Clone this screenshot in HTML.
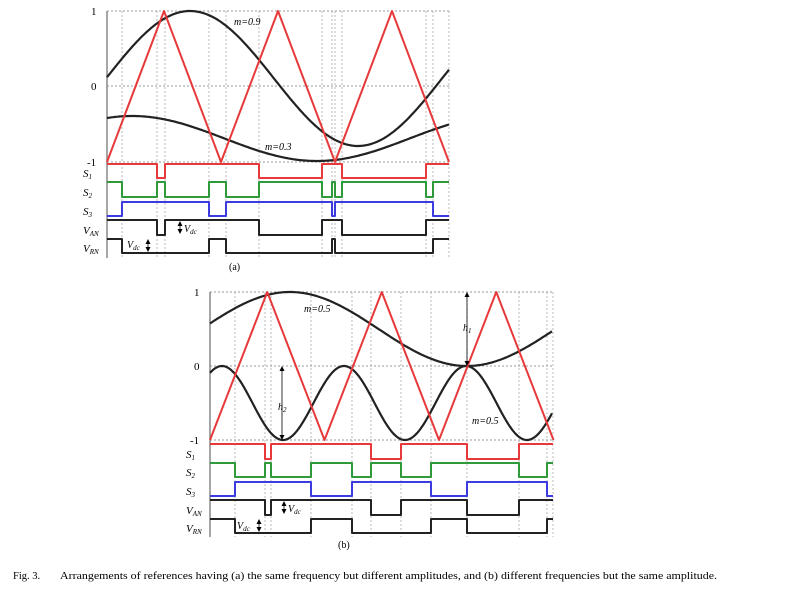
<!DOCTYPE html>
<html><head><meta charset="utf-8"><style>
html,body{margin:0;padding:0;background:#fff;}
svg{display:block;font-family:"Liberation Serif",serif;}
</style></head><body>
<svg id="s" width="794" height="606" viewBox="0 0 794 606" xmlns="http://www.w3.org/2000/svg">
<text x="13" y="579" font-size="10.5">Fig. 3.</text>
<text x="60" y="579" font-size="10.5" textLength="657" lengthAdjust="spacingAndGlyphs">Arrangements of references having (a) the same frequency but different amplitudes, and (b) different frequencies but the same amplitude.</text>
</svg>
<script>
const s=document.getElementById('s');
const NS='http://www.w3.org/2000/svg';
function el(t,a,txt){const e=document.createElementNS(NS,t);for(const k in a)e.setAttribute(k,a[k]);if(txt!==undefined)e.textContent=txt;s.appendChild(e);return e;}
function line(x1,y1,x2,y2,st,w,d){el('line',{x1,y1,x2,y2,stroke:st,'stroke-width':w,'stroke-dasharray':d||''});}
function poly(pts,st,w){el('polyline',{points:pts.map(p=>p.join(',')).join(' '),fill:'none',stroke:st,'stroke-width':w,'stroke-linejoin':'round'});}
function wave(x0,x1,hi,lo,segs,col){
  let pts=[],x=x0,prev=null;
  for(const [xe,v] of segs){const y=v?hi:lo; if(prev!==null&&prev!==y)pts.push([x,prev]); pts.push([x,y]); pts.push([xe,y]); prev=y; x=xe;}
  poly(pts,col,2);
}
function lab(x,y,main,sub){const t=el('text',{x,y,'font-size':11,'font-style':'italic'});t.textContent='';
  const a=document.createElementNS(NS,'tspan');a.textContent=main;t.appendChild(a);
  const b=document.createElementNS(NS,'tspan');b.setAttribute('font-size','7');b.setAttribute('dy','2');b.textContent=sub;t.appendChild(b);}
function arrow(x,y1,y2){line(x,y1+3,x,y2-3,'#000',0.8);
  el('polygon',{points:`${x-2.5},${y1+5} ${x+2.5},${y1+5} ${x},${y1}`,fill:'#000'});
  el('polygon',{points:`${x-2.5},${y2-5} ${x+2.5},${y2-5} ${x},${y2}`,fill:'#000'});}

function plot(P){
  const {X0,X1,Y1,Y0,Ym,rows,axisB,vx,per,curves,sig}=P;
  const G='#999';
  [Y1,Y0,Ym].forEach(y=>line(X0,y,X1,y,G,1,'2,2'));
  vx.forEach(x=>line(x,Y1,x,axisB,'#aaa',0.8,'2,2'));
  line(X1,Y1,X1,axisB,'#aaa',0.8,'2,2');
  line(X0,Y1,X0,axisB,'#888',1.5);
  el('text',{x:X0-16,y:Y1+4,'font-size':11},'1');
  el('text',{x:X0-16,y:Y0+4,'font-size':11},'0');
  el('text',{x:X0-20,y:Ym+4,'font-size':11},'-1');
  const vy=v=>Y0-(Y0-Y1)*v;
  curves.forEach(f=>{let pts=[];for(let x=X0;x<=X1;x+=1.5)pts.push([x,vy(f(x)).toFixed(1)]);poly(pts,'#222',2.2);});
  let pts=[];for(let k=0;;k++){const x=X0+k*per/2;if(x>X1+1)break;pts.push([x,k%2?Y1:Ym]);}
  poly(pts,'#e8393a',2);
  const cols=['#e8393a','#2e9a3a','#3b3be0','#222','#222'];
  const names=[['S','1'],['S','2'],['S','3'],['V','AN'],['V','RN']];
  sig.forEach((sg,i)=>{const [hi,lo]=rows[i];wave(X0,X1,hi,lo,sg,cols[i]);lab(X0-24,lo-1,names[i][0],names[i][1]);});
}
plot({X0:107,X1:449,Y1:11,Y0:86,Ym:162,axisB:258,per:114,
 vx:[122,157,165,209,226,259,322,332,335,342,426,433],
 curves:[x=>0.1+0.9*Math.cos(2*Math.PI*(x-190)/336),x=>-0.7+0.3*Math.cos(2*Math.PI*(x-132)/370)],
 rows:[[164,178],[182,197],[202,216],[220,235],[239,253]],
 sig:[
 [[157,1],[165,0],[259,1],[322,0],[342,1],[426,0],[449,1]],
 [[122,1],[157,0],[165,1],[209,0],[226,1],[259,0],[322,1],[332,0],[335,1],[342,0],[426,1],[433,0],[449,1]],
 [[122,0],[209,1],[226,0],[332,1],[335,0],[433,1],[449,0]],
 [[157,1],[165,0],[259,1],[322,0],[342,1],[426,0],[449,1]],
 [[122,1],[209,0],[226,1],[332,0],[335,1],[433,0],[449,1]]]});
plot({X0:210,X1:553,Y1:292,Y0:366,Ym:440,axisB:537,per:114.5,
 vx:[235,265,271,311,352,371,401,431,467,519,547],
 curves:[x=>0.5+0.5*Math.cos(2*Math.PI*(x-290)/354),x=>-0.5+0.5*Math.cos(2*Math.PI*(x-222)/122)],
 rows:[[444,459],[463,477],[482,496],[500,515],[519,533]],
 sig:[
 [[265,1],[271,0],[371,1],[401,0],[467,1],[519,0],[553,1]],
 [[235,1],[265,0],[271,1],[311,0],[352,1],[371,0],[401,1],[431,0],[519,1],[547,0],[553,1]],
 [[235,0],[311,1],[352,0],[431,1],[467,0],[547,1],[553,0]],
 [[265,1],[271,0],[371,1],[401,0],[467,1],[519,0],[553,1]],
 [[235,1],[311,0],[352,1],[431,0],[467,1],[547,0],[553,1]]]});
function itx(x,y,t,sub,fs){const e=el('text',{x,y,'font-size':fs||10,'font-style':'italic'});const a=document.createElementNS(NS,'tspan');a.textContent=t;e.appendChild(a);if(sub){const b=document.createElementNS(NS,'tspan');b.setAttribute('font-size','7');b.setAttribute('dy','2');b.textContent=sub;e.appendChild(b);}}
itx(234,25,'m=0.9');itx(265,150,'m=0.3');
itx(304,312,'m=0.5');itx(472,424,'m=0.5');
el('text',{x:229,y:270,'font-size':10},'(a)');el('text',{x:338,y:548,'font-size':10},'(b)');
arrow(467,292,366);itx(463,331,'h','1');
arrow(282,366,440);itx(278,410,'h','2');
arrow(180,221,234);itx(184,232,'V','dc');
arrow(148,239,252);itx(127,248,'V','dc');
arrow(284,501,514);itx(288,512,'V','dc');
arrow(259,519,532);itx(237,529,'V','dc');
</script>
</body></html>
